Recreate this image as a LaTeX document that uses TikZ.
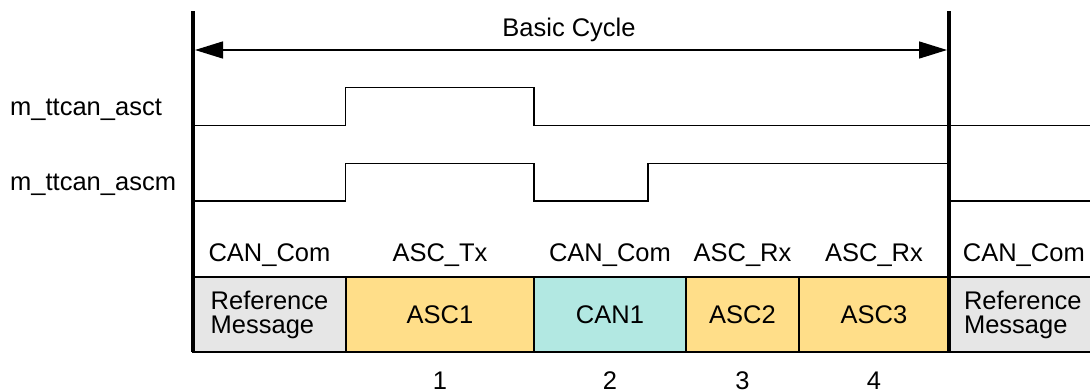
\documentclass[tikz,border=0pt]{standalone}
\usepackage{fontspec}
\setmainfont{Liberation Sans}
\usepackage{tikz}
\usetikzlibrary{arrows.meta,positioning}
\definecolor{RefGray}{RGB}{230,230,230}
\definecolor{AscYellow}{RGB}{255,222,137}
\definecolor{CanTeal}{RGB}{178,232,226}

\begin{document}
\begin{tikzpicture}[
 x=1pt, y=-1pt,
 cell/.style={draw, rectangle, line width=1.3pt, outer sep=0pt, inner sep=0pt, minimum height=75pt, align=center},
 bar/.style={line width=3.5pt},
 sig/.style={line width=1.5pt},
 cyc/.style={{Triangle[length=28pt,width=17pt]}-{Triangle[length=28pt,width=17pt]}, line width=1.5pt},
 lbl/.style={inner sep=0pt},
 font=\fontsize{25.5}{24}\selectfont
]
\useasboundingbox (0,0) rectangle (1090,389);
\clip (0,0) rectangle (1090,389);

% slots of the basic cycle
\node[cell, fill=RefGray, minimum width=153pt, align=left] (ref0) at (269.5,314.5) {Reference\\Message};
\node[cell, fill=AscYellow, minimum width=188pt, right=0pt of ref0] (asc1) {ASC1};
\node[cell, fill=CanTeal, minimum width=152pt, right=0pt of asc1] (can1) {CAN1};
\node[cell, fill=AscYellow, minimum width=113pt, right=0pt of can1] (asc2) {ASC2};
\node[cell, fill=AscYellow, minimum width=150pt, right=0pt of asc2] (asc3) {ASC3};
\node[cell, fill=RefGray, text width=124pt, inner xsep=15pt, align=left, right=0pt of asc3] (ref1) {Reference\\Message};

% slot types
\node[lbl, anchor=base] (hd0) at ([yshift=15.3pt]ref0.north) {CAN\_Com};
\node[lbl, anchor=base] (hd1) at ([yshift=15.3pt]asc1.north) {ASC\_Tx};
\node[lbl, anchor=base] (hd2) at ([yshift=15.3pt]can1.north) {CAN\_Com};
\node[lbl, anchor=base] (hd3) at ([yshift=15.3pt]asc2.north) {ASC\_Rx};
\node[lbl, anchor=base] (hd4) at ([yshift=15.3pt]asc3.north) {ASC\_Rx};
\node[lbl, anchor=base west] (hd5) at ([xshift=13.7pt,yshift=15.3pt]ref1.north west) {CAN\_Com};

% slot numbers
\node[lbl, anchor=base] (n1) at ([yshift=-37pt]asc1.south) {1};
\node[lbl, anchor=base] (n2) at ([yshift=-37pt]can1.south) {2};
\node[lbl, anchor=base] (n3) at ([yshift=-37pt]asc2.south) {3};
\node[lbl, anchor=base] (n4) at ([yshift=-37pt]asc3.south) {4};

% signals
\node[lbl, anchor=base west] (asct) at (10,115) {m\_ttcan\_asct};
\node[lbl, anchor=base west] (ascm) at (10,190) {m\_ttcan\_ascm};
\draw[sig] (195,125.7) -| (345.7,87.7) -| (534,125.7) -- (1090,125.7);
\draw[sig] (195,201) -| (345.7,163.3) -| (534,201) -| (648,163.3) -- (949,163.3);
\draw[sig] (949,201) -- (1090,201);

% cycle limits
\coordinate (bl) at (193,11);
\coordinate (br) at (949,11);
\draw[bar] (bl) -- (bl |- ref0.south);
\draw[bar] (br) -- (br |- ref1.south);

\coordinate (cs) at (195,50);
\coordinate (ce) at (947,50);
\draw[cyc] (cs) -- (ce);
\node[lbl, anchor=base] (basic) at (569,36.7) {Basic Cycle};
\end{tikzpicture}
\end{document}
